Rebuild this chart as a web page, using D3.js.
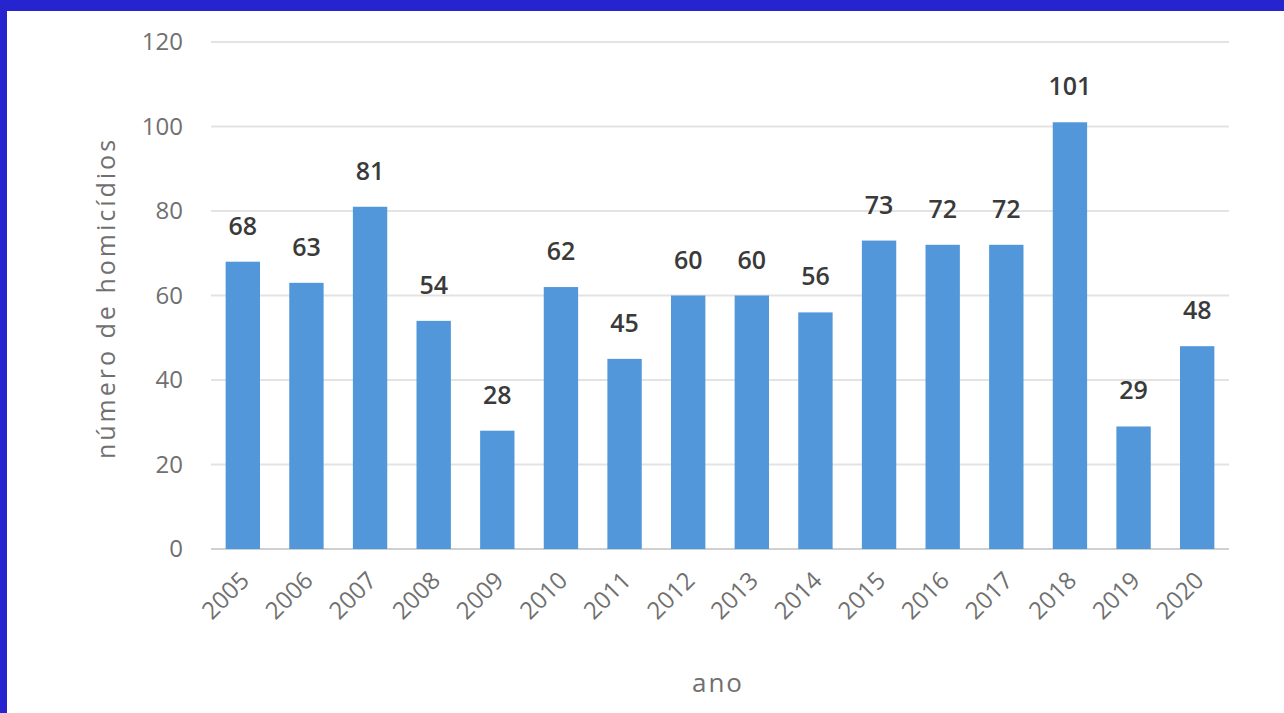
<!DOCTYPE html>
<html><head><meta charset="utf-8">
<script src="https://cdn.jsdelivr.net/npm/d3@7"></script>
<style>
html,body{margin:0;padding:0;background:#fff;}
svg{display:block;font-family:"Open Sans","Noto Sans",sans-serif;}
</style></head>
<body><svg id="c" width="1284" height="713"></svg>
<script>
const years = ["2005","2006","2007","2008","2009","2010","2011","2012","2013","2014","2015","2016","2017","2018","2019","2020"];
const homicides = [68,63,81,54,28,62,45,60,60,56,73,72,72,101,29,48];
const yTicks = [0,20,40,60,80,100,120];
const yLabel = "número de homicídios";
const xLabel = "ano";

(function(){
const svg = d3.select("#c");
svg.append("rect").attr("x",0).attr("y",0).attr("width",1284).attr("height",713).attr("fill","#fff");
svg.append("rect").attr("x",0).attr("y",0).attr("width",1284).attr("height",11).attr("fill","#2624CF");
svg.append("rect").attr("x",0).attr("y",0).attr("width",7).attr("height",713).attr("fill","#2624CF");

const pL=211, pR=1229, pT=42, pB=549;
const x = d3.scaleBand().domain(years).range([pL,pR]).paddingInner(0.46).paddingOuter(0.23);
const y = d3.scaleLinear().domain([0,120]).range([pB,pT]);

svg.append("g").selectAll("line").data(yTicks).join("line")
  .attr("x1",pL).attr("x2",pR)
  .attr("y1",d=>y(d)).attr("y2",d=>y(d))
  .attr("stroke",d=>d===0?"#d0d0d0":"#e3e3e3").attr("stroke-width",2);

svg.append("g").selectAll("text").data(yTicks).join("text")
  .attr("x",183).attr("y",d=>y(d)).attr("dy","0.35em")
  .attr("text-anchor","end").attr("fill","#707070").attr("font-size",24)
  .text(d=>d);

svg.append("g").selectAll("rect").data(homicides).join("rect")
  .attr("x",(d,i)=>x(years[i])).attr("width",x.bandwidth())
  .attr("y",d=>y(d)).attr("height",d=>y(0)-y(d))
  .attr("fill","#5197DA");

svg.append("g").selectAll("text").data(homicides).join("text")
  .attr("x",(d,i)=>x(years[i])+x.bandwidth()/2).attr("y",d=>y(d)-27)
  .attr("text-anchor","middle").attr("fill","#3a3a3a").attr("font-size",25)
  .attr("font-weight",600)
  .text(d=>d);

svg.append("g").selectAll("text").data(years).join("text")
  .attr("transform",d=>`translate(${x(d)+x.bandwidth()/2+2},576) rotate(-45)`)
  .attr("text-anchor","end").attr("fill","#707070").attr("font-size",24)
  .attr("dy","0.35em")
  .text(d=>d);

svg.append("text").attr("transform","translate(106,298) rotate(-90)")
  .attr("text-anchor","middle").attr("dy","0.35em")
  .attr("fill","#707070").attr("font-size",25).attr("letter-spacing",3)
  .text(yLabel);
svg.append("text").attr("x",718).attr("y",683).attr("dy","0.35em")
  .attr("text-anchor","middle").attr("fill","#707070").attr("font-size",26)
  .attr("letter-spacing",2).text(xLabel);
})();
</script></body></html>
